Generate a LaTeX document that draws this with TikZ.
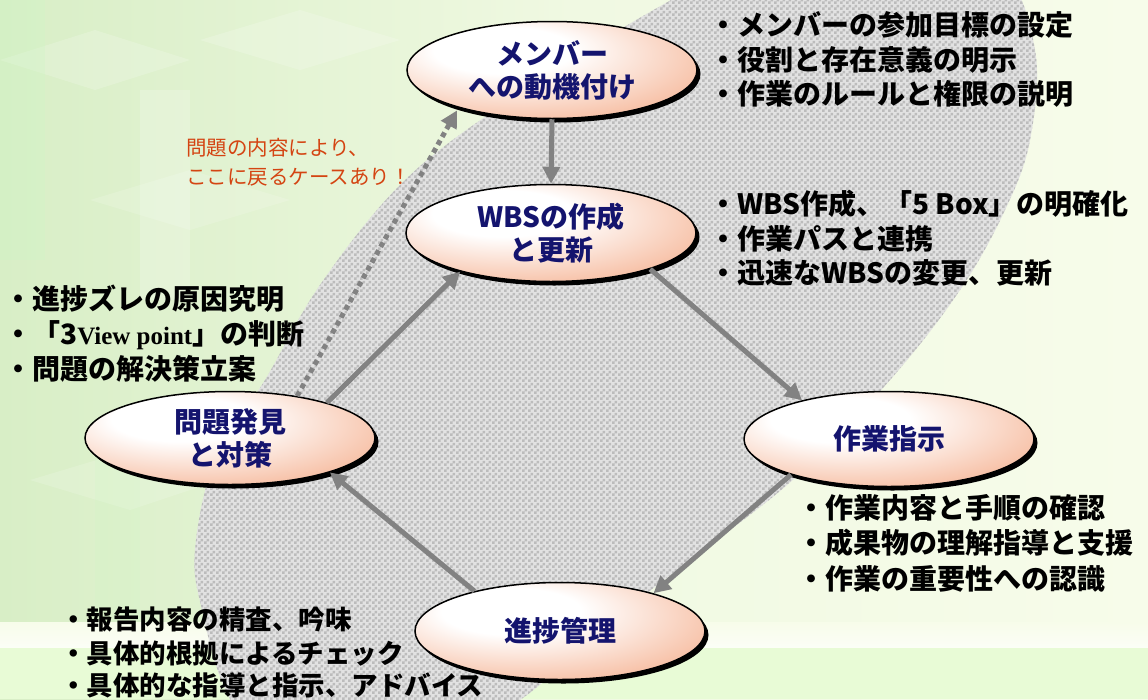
\documentclass[tikz,border=0pt]{standalone}
\usepackage{fontspec}
\usetikzlibrary{shapes.geometric,arrows.meta,shadows,patterns}
\newfontfamily\jp{Noto Sans CJK JP}
\newfontfamily\tms{Liberation Serif}
\definecolor{navy}{RGB}{20,20,110}
\definecolor{nodeor}{RGB}{240,140,92}
\definecolor{arrgray}{RGB}{130,130,130}
\definecolor{redtxt}{RGB}{212,68,18}
\definecolor{bgL}{RGB}{216,238,198}
\definecolor{bgM}{RGB}{240,249,226}
\definecolor{bgR}{RGB}{247,252,234}
\definecolor{bandc}{RGB}{232,251,214}
\definecolor{chkA}{RGB}{226,226,226}
\definecolor{chkB}{RGB}{188,188,188}
\pgfdeclareradialshading{nodesh}{\pgfpoint{-10bp}{12bp}}{color(0bp)=(white);color(12bp)=(white);color(52bp)=(nodeor);color(75bp)=(nodeor)}
\pgfdeclarepatternformonly{chk}{\pgfqpoint{0pt}{0pt}}{\pgfqpoint{6pt}{6pt}}{\pgfqpoint{6pt}{6pt}}{%
  \pgfpathrectangle{\pgfqpoint{0pt}{0pt}}{\pgfqpoint{3pt}{3pt}}%
  \pgfpathrectangle{\pgfqpoint{3pt}{3pt}}{\pgfqpoint{3pt}{3pt}}%
  \pgfusepath{fill}}
\tikzset{
  proc/.style={ellipse, draw=black, line width=1.5pt, shade, shading=nodesh,
    minimum width=290pt, minimum height=97pt, inner sep=0pt,
    drop shadow={shadow xshift=3.5pt, shadow yshift=-4pt, fill=black, opacity=1},
    font=\jp\bfseries\fontsize{28}{33}\selectfont, text=navy, align=center},
  arr/.style={draw=arrgray, line width=5pt, -{Triangle[length=17pt,width=17pt]}},
  dotarr/.style={draw=arrgray, line width=5pt, dash pattern=on 5pt off 4pt,
    -{Triangle[length=17pt,width=17pt]}},
  txt/.style={anchor=base west, inner sep=0pt, text=black,
    font=\jp\bfseries\fontsize{28}{33}\selectfont},
  txtE/.style={txt, font=\jp\bfseries\fontsize{26.5}{32}\selectfont},
  note/.style={anchor=base west, inner sep=0pt, text=redtxt,
    font=\jp\fontsize{20.5}{24}\selectfont}
}
\begin{document}
\begin{tikzpicture}[x=1pt,y=-1pt]
\useasboundingbox (0,0) rectangle (1148,699);
% background
\fill[left color=bgL, right color=bgR, middle color=bgM] (0,0) rectangle (1148,699);
\fill[white, opacity=0.18] (0,60) -- (95,30) -- (190,60) -- (95,90) -- cycle;
\fill[white, opacity=0.18] (200,40) -- (300,10) -- (400,40) -- (300,70) -- cycle;
\fill[white, opacity=0.15] (90,200) -- (190,170) -- (290,200) -- (190,230) -- cycle;
\fill[white, opacity=0.15] (30,480) -- (130,450) -- (220,480) -- (130,510) -- cycle;
\fill[bgL!80!green!60!white, opacity=0.3] (0,0) rectangle (45,260);
\fill[bgL!80!green!60!white, opacity=0.2] (95,420) rectangle (140,640);
\fill[white, opacity=0.2] (140,90) rectangle (190,300);
\fill[top color=bgR, bottom color=white!60!bgR] (0,622) rectangle (1148,648);
\fill[bandc] (0,648) rectangle (1148,699);
% big tilted checkered region
\begin{scope}
\clip (0,0) rectangle (1148,699);
\path[fill=chkA] plot[smooth cycle, tension=0.6] coordinates {(650,12) (760,-40) (900,-60) (1000,-30) (1035,50) (1030,140) (1005,210) (960,290) (890,380) (795,478) (690,560) (600,630) (520,700) (400,770) (280,760) (228,695) (202,610) (195,550) (215,460) (265,380) (320,285) (400,185) (495,110)};
\path[pattern=chk, pattern color=chkB] plot[smooth cycle, tension=0.6] coordinates {(650,12) (760,-40) (900,-60) (1000,-30) (1035,50) (1030,140) (1005,210) (960,290) (890,380) (795,478) (690,560) (600,630) (520,700) (400,770) (280,760) (228,695) (202,610) (195,550) (215,460) (265,380) (320,285) (400,185) (495,110)};
\end{scope}
% nodes
\node[proc] (m) at (552,70) {メンバー\\への動機付け};
\node[proc] (w) at (551,233) {WBSの作成\\と更新};
\node[proc, minimum height=95pt] (s) at (889,439) {作業指示};
\node[proc] (p) at (560,631) {進捗管理};
\node[proc, minimum height=93pt] (q) at (230,438) {問題発見\\と対策};
% connectors
\draw[arr] (m.south) -- (w.north);
\draw[arr] (w.-20) -- (s.156);
\draw[arr] (s.200) -- (p.22);
\draw[arr] (p.155) -- (q.-19);
\draw[arr] (q.20) -- (w.203);
\draw[dotarr, shorten >=3pt] (q.32) -- (m.202);
% texts
\node[note] (r1) at (186,155) {問題の内容により、};
\node[note] (r2) at (186,184) {ここに戻るケースあり！};
\node[txt] (a1) at (709,35) {・メンバーの参加目標の設定};
\node[txt] (a2) at (709,70) {・役割と存在意義の明示};
\node[txt] (a3) at (709,104) {・作業のルールと権限の説明};
\node[txt] (b1) at (709,214) {・WBS作成、「5 Box」の明確化};
\node[txt] (b2) at (709,249) {・作業パスと連携};
\node[txt] (b3) at (709,283) {・迅速なWBSの変更、更新};
\node[txt] (c1) at (4,309) {・進捗ズレの原因究明};
\node[txt] (c2) at (4,344) {・「3{\tms\bfseries\fontsize{25}{30}\selectfont View point}」の判断};
\node[txt] (c3) at (4,379) {・問題の解決策立案};
\node[txt] (d1) at (797,518) {・作業内容と手順の確認};
\node[txt] (d2) at (797,553) {・成果物の理解指導と支援};
\node[txt] (d3) at (797,589) {・作業の重要性への認識};
\node[txtE] (e1) at (60,629) {・報告内容の精査、吟味};
\node[txtE] (e2) at (60,663) {・具体的根拠によるチェック};
\node[txtE] (e3) at (60,695) {・具体的な指導と指示、アドバイス};
\end{tikzpicture}
\end{document}
